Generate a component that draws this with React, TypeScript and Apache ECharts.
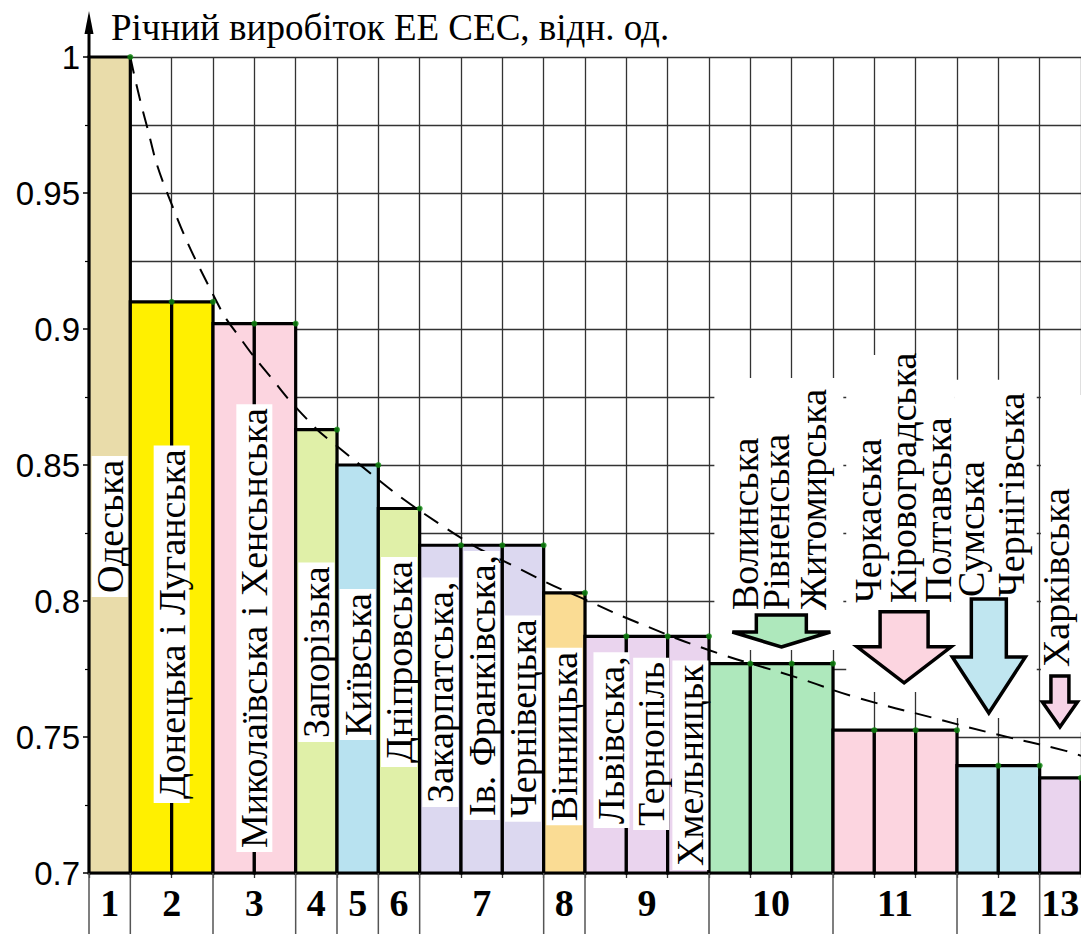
import React, { useEffect, useRef } from 'react';
import * as echarts from 'echarts';

const Y_MIN = 0.7;
const Y_MAX = 1.0;
const COLUMN_COUNT = 24;

const titleText = 'Річний виробіток ЕЕ СЕС, відн. од.';

// groups (bottom numbers), how many regions in each, relative yield of each group
const groupNumbers = ['1', '2', '3', '4', '5', '6', '7', '8', '9', '10', '11', '12', '13'];
const groupSizes = [1, 2, 2, 1, 1, 1, 3, 1, 3, 3, 3, 2, 1];
const groupValues = [1.0, 0.910, 0.902, 0.863, 0.850, 0.834, 0.8205, 0.803, 0.787, 0.777, 0.7525, 0.7395, 0.735];
const groupColors = [
  '#e9dcaa', '#fff000', '#fcd5e0', '#e0f0a8', '#b8e2f0', '#e0f0a8', '#dcd8f0',
  '#fadc94', '#ead4ee', '#aee8bc', '#fcd5e0', '#c0e6f0', '#ead4ee',
];

const regionLabels = [
  'Одеська', 'Донецька і Луганська', 'Миколаївська і Хенсьнська', 'Запорізька', 'Київська',
  'Дніпровська', 'Закарпатська,', 'Ів. Франківська,', 'Чернівецька', 'Вінницька',
  'Львівська,', 'Тернопіль', 'Хмельницьк',
  'Волинська', 'Рівненська', 'Житомирська', 'Черкаська', 'Кіровоградська', 'Полтавська',
  'Сумська', 'Чернігівська', 'Харківська',
];
// layout: [x position in columns, value at text start (bottom)]
const labelAnchors = [
  [0.5, 0.8015], [2.0, 0.7257], [4.0, 0.7077], [5.5, 0.7482], [6.5, 0.7489],
  [7.5, 0.739], [8.5, 0.7243], [9.5, 0.7195], [10.5, 0.7188], [11.5, 0.7176],
  [12.64, 0.7165], [13.6, 0.7158], [14.55, 0.7011],
  [15.88, 0.7967], [16.63, 0.7967], [17.52, 0.7967], [18.85, 0.7993], [19.7, 0.7993], [20.54, 0.7993],
  [21.34, 0.8015], [22.3, 0.8015], [23.39, 0.7757],
];
const INSIDE_LABELS = 13;

// dashed trend curve
const trendX = [1.0, 1.35, 1.88, 3.09, 3.69, 4.39, 5.14, 5.91, 8.59, 10.81, 12.02, 13.3, 14.99, 17.16, 18.54, 20.61, 21.92, 23.63, 24.1];
const trendY = [1.0, 0.9775, 0.9505, 0.910, 0.896, 0.8824, 0.869, 0.858, 0.8272, 0.8088, 0.8004, 0.7919, 0.782, 0.7717, 0.7647, 0.7563, 0.7511, 0.7449, 0.7425];

// white masks behind the outside labels: [x1, x2, yTop, yBottom]
const maskRects = [
  [15.13, 18.25, 0.882, 0.782],
  [18.32, 20.95, 0.8904, 0.7665],
  [20.95, 22.93, 0.8813, 0.757],
  [23.03, 24.5, 0.8757, 0.7518],
];
// arrows: [centre x, tip value, head height px, head half width px, shaft half width px, total height px]
const arrowShapes = [
  [16.75, 0.7831, 15, 49, 25, 32],
  [19.72, 0.7699, 36, 47, 24, 71],
  [21.77, 0.7588, 56, 36.5, 17.5, 114],
  [23.49, 0.7537, 25, 17.5, 9, 51],
];
const arrowColors = ['#aee8bc', '#fcd5e0', '#c0e6f0', '#f6d3e6'];

export default function App() {
  const ref = useRef<HTMLDivElement>(null);

  useEffect(() => {
    const chart = echarts.init(ref.current!, null, { renderer: 'svg' });

    const columns: number[][] = [];
    const groupSpans: number[][] = [];
    let start = 0;
    groupSizes.forEach((size, g) => {
      groupSpans.push([start, start + size, g]);
      for (let k = 0; k < size; k++) columns.push([start + k, groupValues[g], g]);
      start += size;
    });
    const dots = columns.map((c) => [c[0] + 1, c[1]]);
    const trend = trendX.map((x, i) => [x, trendY[i]]);
    const labels = labelAnchors.map((a, i) => [a[0], a[1], i]);

    const gridColor = '#333';

    const option: any = {
      animation: false,
      backgroundColor: '#fff',
      grid: { left: 89, right: -2, top: 57, bottom: 61, containLabel: false },
      xAxis: {
        type: 'value', min: 0, max: COLUMN_COUNT, interval: 1,
        axisLabel: { show: false },
        axisLine: { show: false },
        axisTick: { show: true, length: 5, lineStyle: { color: gridColor, width: 1.3 } },
        splitLine: { show: true, lineStyle: { color: gridColor, width: 1.3 } },
      },
      yAxis: {
        type: 'value', min: Y_MIN, max: Y_MAX, interval: 0.05,
        axisLine: { show: true, onZero: false, lineStyle: { color: '#000', width: 3 } },
        axisTick: { show: true, length: 6, lineStyle: { color: '#000', width: 1.5 } },
        minorTick: { show: true, splitNumber: 2, length: 4, lineStyle: { color: '#000', width: 1.2 } },
        splitLine: { show: true, lineStyle: { color: gridColor, width: 1.3 } },
        minorSplitLine: { show: true, lineStyle: { color: gridColor, width: 1.3 } },
        axisLabel: { fontSize: 33, fontFamily: 'Liberation Sans', color: '#000', margin: 9 },
      },
      graphic: [
        {
          type: 'text', left: 111, top: 9, z: 10,
          style: { text: titleText, fill: '#000', fontSize: 37, fontFamily: 'Liberation Serif' },
        },
        { type: 'line', shape: { x1: 89, y1: 58, x2: 89, y2: 26 }, style: { stroke: '#000', lineWidth: 3 }, z: 10 },
        { type: 'polygon', shape: { points: [[89, 11], [84.5, 34], [93.5, 34]] }, style: { fill: '#000' }, z: 10 },
      ],
      series: [
        {
          type: 'custom', name: 'bars', z: 2, data: columns, encode: { x: 0, y: 1 },
          renderItem: (params: any, api: any) => {
            const x = api.value(0);
            const v = api.value(1);
            const g = api.value(2);
            const p1 = api.coord([x, v]);
            const p2 = api.coord([x + 1, Y_MIN]);
            return {
              type: 'rect',
              shape: { x: p1[0], y: p1[1], width: p2[0] - p1[0], height: p2[1] - p1[1] },
              style: { fill: groupColors[g], stroke: '#000', lineWidth: 3.2 },
            };
          },
        },
        {
          type: 'custom', name: 'masks', z: 3, data: maskRects, encode: { x: [0, 1], y: [2, 3] },
          renderItem: (params: any, api: any) => {
            const p1 = api.coord([api.value(0), api.value(2)]);
            const p2 = api.coord([api.value(1), api.value(3)]);
            return {
              type: 'rect',
              shape: { x: p1[0], y: p1[1], width: p2[0] - p1[0], height: p2[1] - p1[1] },
              style: { fill: '#fff' },
            };
          },
        },
        {
          type: 'custom', name: 'arrows', z: 4, data: arrowShapes, encode: { x: 0, y: 1 },
          renderItem: (params: any, api: any) => {
            const t = api.coord([api.value(0), api.value(1)]);
            const hh = api.value(2), hw = api.value(3), sw = api.value(4), H = api.value(5);
            const tx = t[0], ty = t[1];
            return {
              type: 'polygon',
              shape: {
                points: [
                  [tx, ty], [tx + hw, ty - hh], [tx + sw, ty - hh], [tx + sw, ty - H],
                  [tx - sw, ty - H], [tx - sw, ty - hh], [tx - hw, ty - hh],
                ],
              },
              style: { fill: arrowColors[params.dataIndex], stroke: '#000', lineWidth: 3.5, lineJoin: 'miter' },
            };
          },
        },
        {
          type: 'line', name: 'trend', z: 5, data: trend, smooth: 0.5,
          showSymbol: false, symbol: 'none',
          lineStyle: { color: '#000', width: 2, type: [17, 11] },
        },
        {
          type: 'scatter', name: 'dots', z: 6, data: dots, symbolSize: 6,
          itemStyle: { color: '#108a10' },
        },
        {
          type: 'custom', name: 'labels', z: 7, data: labels, encode: { x: 0, y: 1 },
          renderItem: (params: any, api: any) => {
            const i = api.value(2);
            const p = api.coord([api.value(0), api.value(1)]);
            const inside = i < INSIDE_LABELS;
            return {
              type: 'text', x: p[0], y: p[1], rotation: Math.PI / 2,
              style: {
                text: regionLabels[i], fill: '#000', fontSize: 38, fontFamily: 'Liberation Serif',
                align: 'left', verticalAlign: 'middle', lineHeight: 34,
                backgroundColor: inside ? '#fff' : 'transparent',
                padding: inside ? [1, 4] : 0,
              },
            };
          },
        },
        {
          type: 'custom', name: 'groups', z: 7, data: groupSpans, encode: { x: [0, 1] },
          renderItem: (params: any, api: any) => {
            const s = api.value(0), e = api.value(1), g = api.value(2);
            const ps = api.coord([s, Y_MIN]);
            const pc = api.coord([(s + e) / 2, Y_MIN]);
            return {
              type: 'group',
              children: [
                { type: 'line', shape: { x1: ps[0], y1: ps[1], x2: ps[0], y2: ps[1] + 62 }, style: { stroke: '#555', lineWidth: 1.5 } },
                {
                  type: 'text', x: pc[0], y: pc[1] + 30,
                  style: {
                    text: groupNumbers[g], fill: '#000', fontSize: 38, fontWeight: 'bold',
                    fontFamily: 'Liberation Serif', align: 'center', verticalAlign: 'middle',
                  },
                },
              ],
            };
          },
        },
      ],
    };

    chart.setOption(option);
    return () => chart.dispose();
  }, []);

  return (
    <div
      ref={ref}
      style={{ position: 'absolute', left: 0, top: 0, width: 1081, height: 934, background: '#fff' }}
    />
  );
}
